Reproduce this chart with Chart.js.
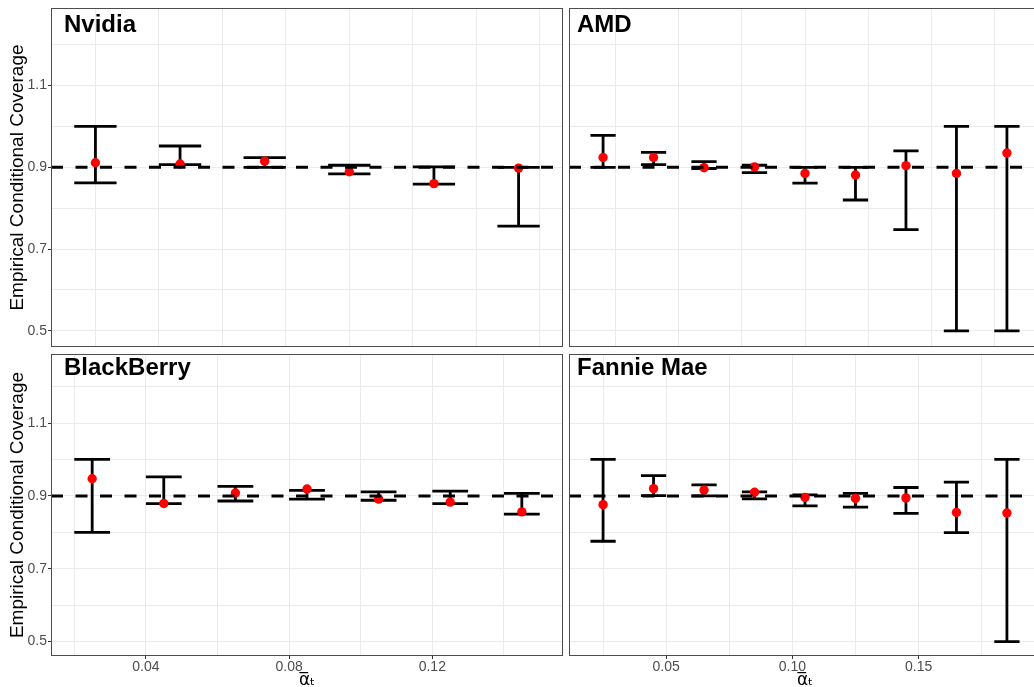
<!DOCTYPE html>
<html>
<head>
<meta charset="utf-8">
<script src="https://cdn.jsdelivr.net/npm/chart.js@4.4.1/dist/chart.umd.min.js"></script>
<style>
  html, body { margin: 0; padding: 0; background: #fff; overflow: hidden; width: 1034px; height: 687px; }
  canvas { position: absolute; }
</style>
</head>
<body>
<canvas id="nvidia" width="564" height="348" style="left:0;top:0"></canvas>
<canvas id="amd" width="478" height="348" style="left:564px;top:0"></canvas>
<canvas id="blackberry" width="564" height="345" style="left:0;top:347px"></canvas>
<canvas id="fannie" width="478" height="345" style="left:564px;top:347px"></canvas>
<script>
// target coverage (dashed reference line)
const target = 0.9;
const capWidth = 0.01;

// y axis
const yMin = 0.4605, yMax = 1.2895;
const yGrid = [0.5, 0.6, 0.7, 0.8, 0.9, 1.0, 1.1, 1.2];
const yLabels = [0.5, 0.7, 0.9, 1.1];

// Nvidia
const xNvidia = [0.03, 0.05, 0.07, 0.09, 0.11, 0.13];
const estNvidia = [0.911, 0.908, 0.915, 0.889, 0.860, 0.898];
const loNvidia = [0.862, 0.9065, 0.900, 0.884, 0.859, 0.756];
const hiNvidia = [1.000, 0.952, 0.9235, 0.905, 0.901, 0.900];
const gridNvidia = [0.03, 0.045, 0.06, 0.075, 0.09, 0.105, 0.12, 0.135];

// AMD
const xAmd = [0.02, 0.04, 0.06, 0.08, 0.10, 0.12, 0.14, 0.16, 0.18];
const estAmd = [0.924, 0.924, 0.899, 0.901, 0.885, 0.881, 0.904, 0.885, 0.935];
const loAmd = [0.900, 0.9065, 0.897, 0.887, 0.861, 0.820, 0.7475, 0.500, 0.500];
const hiAmd = [0.978, 0.9365, 0.914, 0.905, 0.900, 0.900, 0.940, 1.000, 1.000];
const gridAmd = [0.025, 0.05, 0.075, 0.1, 0.125, 0.15, 0.175];

// BlackBerry
const xBlackberry = [0.025, 0.045, 0.065, 0.085, 0.105, 0.125, 0.145];
const estBlackberry = [0.947, 0.879, 0.908, 0.919, 0.891, 0.883, 0.856];
const loBlackberry = [0.800, 0.879, 0.886, 0.891, 0.888, 0.879, 0.850];
const hiBlackberry = [1.000, 0.952, 0.926, 0.915, 0.911, 0.913, 0.907];
const gridBlackberry = [0.02, 0.04, 0.06, 0.08, 0.10, 0.12, 0.14];
const labelsBlackberry = [0.04, 0.08, 0.12];

// Fannie Mae
const xFannie = [0.025, 0.045, 0.065, 0.085, 0.105, 0.125, 0.145, 0.165, 0.185];
const estFannie = [0.876, 0.920, 0.916, 0.910, 0.896, 0.893, 0.8945, 0.8545, 0.853];
const loFannie = [0.7755, 0.901, 0.900, 0.892, 0.8727, 0.869, 0.852, 0.799, 0.500];
const hiFannie = [1.000, 0.9555, 0.930, 0.911, 0.903, 0.907, 0.923, 0.938, 1.000];
const gridFannie = [0.025, 0.05, 0.075, 0.1, 0.125, 0.15, 0.175];
const labelsFannie = [0.05, 0.10, 0.15];

const FONT = '"Liberation Sans", Arial, "DejaVu Sans", sans-serif';

function errorSegments(xs, lo, hi) {
  const pts = [];
  xs.forEach((x, i) => {
    pts.push({x: x, y: lo[i]}, {x: x, y: hi[i]}, {x: x, y: null});
    pts.push({x: x - capWidth / 2, y: hi[i]}, {x: x + capWidth / 2, y: hi[i]}, {x: x, y: null});
    pts.push({x: x - capWidth / 2, y: lo[i]}, {x: x + capWidth / 2, y: lo[i]}, {x: x, y: null});
  });
  return pts;
}

function noOverflow(s) {
  s.paddingTop = 0; s.paddingBottom = 0; s.paddingLeft = 0; s.paddingRight = 0;
}

const framePlugin = {
  id: 'frame',
  afterDraw(chart, args, opts) {
    const a = chart.chartArea;
    const c = chart.ctx;
    c.save();
    c.strokeStyle = '#4d4d4d';
    c.lineWidth = 1;
    c.strokeRect(Math.round(a.left) + 0.5, Math.round(a.top) + 0.5,
      Math.round(a.right - a.left) - 1, Math.round(a.bottom - a.top) - 1);
    c.fillStyle = '#000';
    c.font = 'bold 24px ' + FONT;
    c.textBaseline = 'alphabetic';
    c.textAlign = 'left';
    c.fillText(opts.name, a.left + opts.dx, chart.scales.y.getPixelForValue(1.231));
    c.restore();
  }
};

function buildPanel(id, cfg) {
  const ctx = document.getElementById(id);
  const left = cfg.showY;
  const bottom = cfg.showX;
  new Chart(ctx, {
    data: {
      datasets: [
        {
          type: 'line',
          data: [{x: cfg.xMin, y: target}, {x: cfg.xMax, y: target}],
          borderColor: '#000',
          borderWidth: 3,
          borderDash: [12, 12.5],
          borderCapStyle: 'butt',
          pointRadius: 0,
          order: 0
        },
        {
          type: 'scatter',
          data: cfg.x.map((x, i) => ({x: x, y: cfg.est[i]})),
          backgroundColor: '#ff0000',
          borderWidth: 0,
          pointRadius: 4.7,
          order: 1
        },
        {
          type: 'line',
          data: errorSegments(cfg.x, cfg.lo, cfg.hi),
          borderColor: '#000',
          borderWidth: 2.8,
          borderCapStyle: 'butt',
          spanGaps: false,
          pointRadius: 0,
          tension: 0,
          order: 2
        }
      ]
    },
    options: {
      responsive: false,
      animation: false,
      events: [],
      layout: {
        autoPadding: false,
        padding: { top: bottom ? 7 : 8, right: 1, bottom: bottom ? 0 : 1, left: left ? 0 : 5 }
      },
      plugins: {
        legend: { display: false },
        tooltip: { enabled: false },
        frame: { name: cfg.name, dx: left ? 13 : 8 }
      },
      scales: {
        x: {
          type: 'linear',
          position: 'bottom',
          min: cfg.xMin,
          max: cfg.xMax,
          afterBuildTicks: s => { s.ticks = cfg.grid.map(v => ({value: v})); },
          afterFit: s => { s.height = bottom ? 36 : 0; noOverflow(s); },
          border: { display: false },
          grid: {
            color: '#ebebeb',
            lineWidth: 1,
            drawTicks: bottom,
            tickLength: 3,
            tickColor: c => (bottom && cfg.labels.includes(c.tick.value)) ? '#333' : 'rgba(0,0,0,0)'
          },
          ticks: {
            display: bottom,
            padding: 0,
            color: '#4d4d4d',
            font: { size: 14, family: FONT },
            maxRotation: 0,
            autoSkip: false,
            callback: v => (cfg.labels || []).includes(v) ? v.toFixed(2) : ''
          },
          title: {
            display: bottom,
            text: 'α̅ₜ',
            color: '#000',
            font: { size: 17, family: '"DejaVu Sans", sans-serif', lineHeight: 1.2 },
            padding: { top: 0, bottom: 1 }
          }
        },
        y: {
          type: 'linear',
          min: yMin,
          max: yMax,
          afterBuildTicks: s => { s.ticks = yGrid.map(v => ({value: v})); },
          afterFit: s => { s.width = left ? 51 : 0; noOverflow(s); },
          border: { display: false },
          grid: {
            color: '#ebebeb',
            lineWidth: 1,
            drawTicks: left,
            tickLength: 3,
            tickColor: c => (left && yLabels.includes(c.tick.value)) ? '#333' : 'rgba(0,0,0,0)'
          },
          ticks: {
            display: left,
            padding: 1,
            color: '#4d4d4d',
            font: { size: 14, family: FONT },
            autoSkip: false,
            callback: v => yLabels.includes(v) ? v.toFixed(1) : ''
          },
          title: {
            display: left,
            text: 'Empirical Conditional Coverage',
            color: '#000',
            font: { size: 19, family: FONT },
            padding: { top: 6, bottom: 0 }
          }
        }
      }
    },
    plugins: [framePlugin]
  });
}

buildPanel('nvidia', { name: 'Nvidia', x: xNvidia, est: estNvidia, lo: loNvidia, hi: hiNvidia,
  grid: gridNvidia, labels: [], xMin: 0.0195, xMax: 0.1405, showY: true, showX: false });
buildPanel('amd', { name: 'AMD', x: xAmd, est: estAmd, lo: loAmd, hi: hiAmd,
  grid: gridAmd, labels: [], xMin: 0.0065, xMax: 0.1935, showY: false, showX: false });
buildPanel('blackberry', { name: 'BlackBerry', x: xBlackberry, est: estBlackberry, lo: loBlackberry, hi: hiBlackberry,
  grid: gridBlackberry, labels: labelsBlackberry, xMin: 0.0135, xMax: 0.1565, showY: true, showX: true });
buildPanel('fannie', { name: 'Fannie Mae', x: xFannie, est: estFannie, lo: loFannie, hi: hiFannie,
  grid: gridFannie, labels: labelsFannie, xMin: 0.0115, xMax: 0.1985, showY: false, showX: true });
</script>
</body>
</html>
